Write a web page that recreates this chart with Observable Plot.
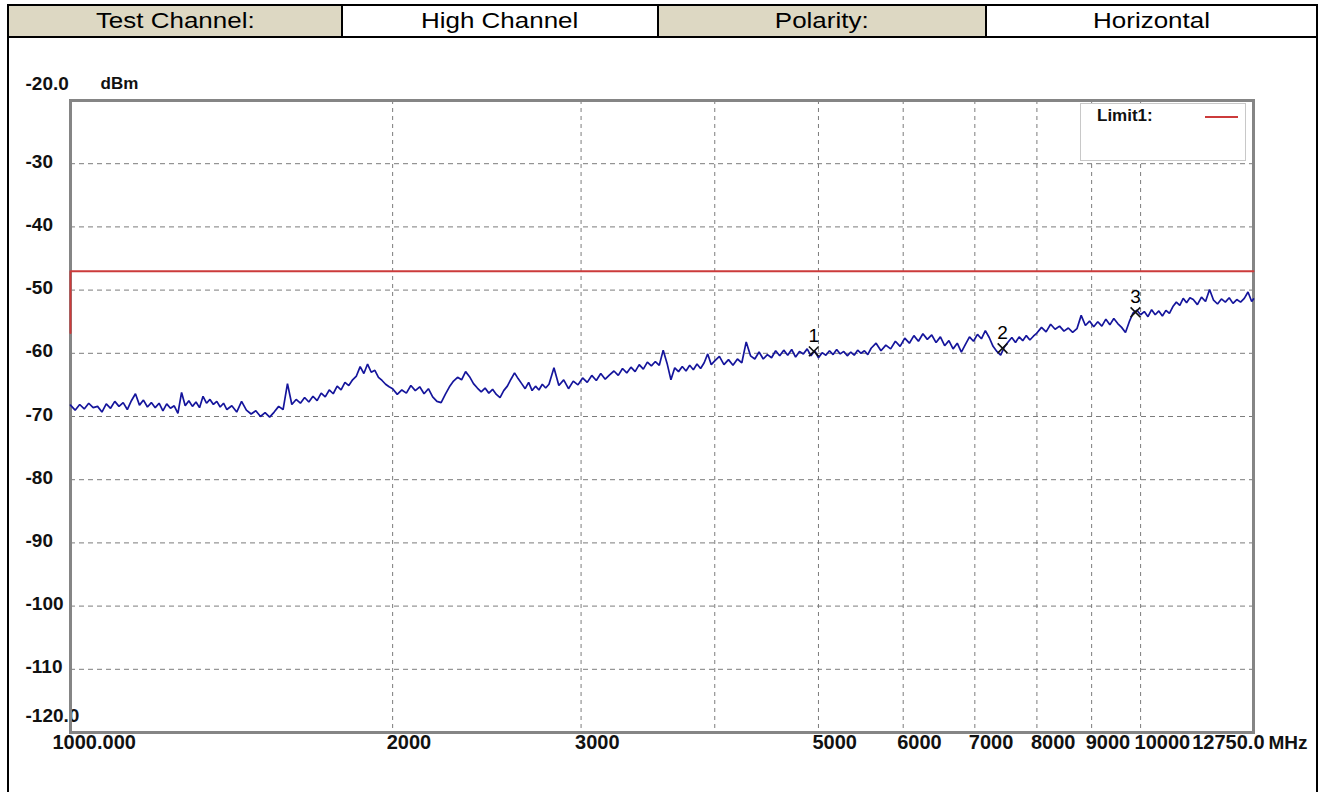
<!DOCTYPE html>
<html><head><meta charset="utf-8">
<script src="https://cdn.jsdelivr.net/npm/d3@7"></script>
<script src="https://cdn.jsdelivr.net/npm/@observablehq/plot@0.6"></script>
<style>
html,body{margin:0;padding:0;background:#fff;width:1323px;height:792px;overflow:hidden;font-family:"Liberation Sans",Arial,sans-serif;}
.ln{position:absolute;background:#000;z-index:5;}
.cell{position:absolute;top:6px;height:30px;display:flex;align-items:center;justify-content:center;font-size:22px;color:#000;}
.cell span{display:inline-block;transform:scaleX(1.18);}
.tan{background:#ddd8c3;}
#chart{position:absolute;left:0;top:40px;}
#legend{position:absolute;left:1080px;top:103px;width:166px;height:58px;box-sizing:border-box;border:1px solid #c8c8c8;background:#fff;z-index:3;}
#legend .lab{position:absolute;left:16px;top:2px;font-weight:bold;font-size:17px;color:#111;}
#legend .sw{position:absolute;left:124px;top:12px;width:33px;height:0;border-top:2px solid #cc3b3b;}
</style></head><body>
<div class="cell tan" style="left:9px;width:332px"><span>Test Channel:</span></div>
<div class="cell" style="left:343px;width:314px"><span>High Channel</span></div>
<div class="cell tan" style="left:659px;width:326px"><span>Polarity:</span></div>
<div class="cell" style="left:987px;width:329px"><span>Horizontal</span></div>
<div class="ln" style="left:7px;top:4px;width:1311px;height:2px"></div>
<div class="ln" style="left:7px;top:36px;width:1311px;height:2px"></div>
<div class="ln" style="left:7px;top:4px;width:2px;height:790px"></div>
<div class="ln" style="left:341px;top:4px;width:2px;height:34px"></div>
<div class="ln" style="left:657px;top:4px;width:2px;height:34px"></div>
<div class="ln" style="left:985px;top:4px;width:2px;height:34px"></div>
<div class="ln" style="left:1316px;top:4px;width:2px;height:790px"></div>
<div id="chart"></div>
<div id="legend"><div class="lab">Limit1:</div><div class="sw"></div></div>
<script>
// ---- Trace data (MHz, dBm) ----
const mhzA = [1000,1010,1020,1030,1040,1050,1060,1070,1080,1090,1100,1110,1120,1130,1140,1150,1160,1170,1180,1190,1200,1210,1220,1230,1240,1250,1260,1270,1280,1290,1300,1310,1320,1330,1340,1350,1360,1370,1380,1390];
const dbmA = [-68.2,-69.0,-68.1,-68.8,-67.9,-68.6,-68.4,-69.3,-68.0,-68.7,-67.6,-68.4,-67.8,-68.9,-67.5,-66.4,-68.2,-67.4,-68.5,-67.8,-68.6,-67.9,-69.1,-68.0,-68.7,-68.3,-69.5,-66.2,-68.3,-67.5,-68.4,-67.7,-68.6,-66.8,-67.9,-67.3,-68.1,-67.6,-68.5,-67.9];
const mhzB = [1400,1415,1430,1445,1460,1475,1490,1505,1520,1535,1550,1565,1580,1595,1610,1625,1640,1655,1670,1685,1700,1715,1730,1745,1760,1775,1790,1805,1820,1835,1850,1865,1880,1895,1910,1925,1940,1955,1970,1985];
const dbmB = [-68.9,-68.3,-69.3,-67.6,-69.0,-69.6,-69.1,-70.0,-69.4,-70.1,-69.3,-68.4,-68.9,-64.8,-68.1,-67.3,-67.9,-67.0,-67.7,-66.8,-67.5,-66.3,-66.9,-65.8,-66.4,-65.2,-65.8,-64.6,-65.1,-64.2,-63.6,-62.1,-63.2,-61.7,-63.0,-62.7,-63.8,-64.3,-64.9,-65.3];
const mhzC = [2000,2020,2040,2060,2080,2100,2120,2140,2160,2180,2200,2220,2240,2260,2280,2300,2320,2340,2360,2380,2400,2420,2440,2460,2480,2500,2520,2540,2560,2580,2600,2620,2640,2660,2680,2700,2720,2740,2760,2780];
const dbmC = [-65.6,-66.5,-65.8,-66.3,-65.1,-65.9,-65.3,-66.4,-65.6,-66.9,-67.6,-67.8,-66.5,-65.3,-64.4,-63.8,-64.2,-62.9,-63.7,-64.8,-65.5,-66.1,-65.5,-66.3,-65.7,-66.5,-67.0,-65.9,-65.2,-64.1,-63.1,-64.0,-64.8,-65.6,-64.6,-65.9,-65.2,-65.8,-64.9,-65.5];
const mhzD = [2800,2830,2860,2890,2920,2950,2980,3010,3040,3070,3100,3130,3160,3190,3220,3250,3280,3310,3340,3370,3400,3430,3460,3490,3520,3550,3580,3610,3640,3670,3700,3730,3760,3790,3820,3850,3880,3910,3940,3970];
const dbmD = [-64.9,-62.3,-65.1,-64.2,-65.6,-64.4,-65.0,-63.9,-64.6,-63.5,-64.3,-63.2,-64.1,-63.4,-62.8,-63.5,-62.4,-63.1,-62.2,-62.9,-61.8,-62.5,-61.4,-62.0,-61.3,-61.9,-59.5,-61.6,-64.2,-62.3,-62.9,-62.1,-62.8,-61.9,-62.6,-61.7,-62.4,-61.5,-60.1,-61.8];
const mhzE = [4000,4040,4080,4120,4160,4200,4240,4280,4320,4360,4400,4440,4480,4520,4560,4600,4640,4680,4720,4760,4800,4840,4880,4920,4960,5000,5040,5080,5120,5160,5200,5240,5280,5320,5360,5400,5440,5480,5520,5560];
const dbmE = [-61.2,-60.5,-61.8,-61.0,-61.9,-60.9,-61.5,-58.2,-60.4,-60.9,-59.8,-60.9,-60.2,-60.7,-59.6,-60.4,-59.5,-60.3,-59.4,-60.6,-59.7,-60.1,-59.3,-60.4,-59.6,-60.7,-59.9,-60.3,-59.6,-60.2,-59.4,-60.1,-59.7,-60.4,-59.8,-60.3,-59.5,-60.0,-59.6,-60.2];
const mhzF = [5600,5660,5720,5780,5840,5900,5960,6020,6080,6140,6200,6260,6320,6380,6440,6500,6560,6620,6680,6740,6800,6860,6920,6980,7040,7100,7160,7220,7280,7340,7400,7460,7520,7580,7640,7700,7760,7820,7880,7940];
const dbmF = [-59.2,-58.4,-59.6,-58.7,-59.3,-58.1,-58.9,-57.6,-58.4,-57.2,-58.1,-56.9,-57.8,-57.1,-58.3,-57.4,-58.8,-58.0,-59.3,-58.4,-59.8,-58.6,-57.4,-58.1,-57.0,-57.7,-56.4,-57.5,-58.9,-59.7,-60.3,-59.0,-58.2,-57.5,-58.3,-57.4,-58.0,-57.2,-57.9,-57.3];
const mhzG = [8000,8080,8160,8240,8320,8400,8480,8560,8640,8720,8800,8880,8960,9040,9120,9200,9280,9360,9440,9520,9600,9680,9760,9840,9920,10000,10080,10160,10240,10320,10400,10480,10560,10640,10720,10800,10880,10960,11040,11120];
const dbmG = [-56.8,-55.9,-56.6,-55.4,-56.2,-55.7,-56.5,-56.0,-56.7,-56.1,-54.0,-55.6,-54.9,-55.8,-55.0,-55.7,-54.6,-55.5,-54.5,-55.3,-55.9,-56.7,-55.0,-53.6,-53.2,-53.9,-53.4,-54.2,-53.1,-53.9,-53.3,-54.1,-53.2,-53.7,-52.6,-51.9,-52.4,-51.3,-52.0,-51.2];
const mhzH = [11200,11300,11400,11500,11600,11700,11800,11900,12000,12100,12200,12300,12400,12500,12600,12700,12750];
const dbmH = [-51.5,-52.3,-51.1,-51.8,-49.9,-51.6,-52.2,-51.4,-51.9,-51.2,-52.1,-51.5,-51.9,-51.3,-50.3,-51.8,-51.4];

// ---- Limit line ----
const limitMHz = [1000, 1000, 12750];
const limitDbm = [-56.8, -47, -47];

// ---- Markers ----
const markerNames = ["1", "2", "3"];
const markerMHz = [4950, 7430, 9890];
const markerDbm = [-59.7, -59.2, -53.5];

// ---- Axes ----
const xGridMHz = [2000, 3000, 4000, 5000, 6000, 7000, 8000, 9000, 10000];
const xTickMHz = [1000, 2000, 3000, 5000, 6000, 7000, 8000, 9000, 10000, 12750];
const xTickLabels = ["1000.000", "2000", "3000", "5000", "6000", "7000", "8000", "9000", "10000", "12750.0"];
const xUnit = "MHz";
const yGridDbm = [-30, -40, -50, -60, -70, -80, -90, -100, -110];
const yTickDbm = [-20, -30, -40, -50, -60, -70, -80, -90, -100, -110, -120];
const yTickLabels = ["-20.0", "-30", "-40", "-50", "-60", "-70", "-80", "-90", "-100", "-110", "-120.0"];
const yUnit = "dBm";

const zipAll = [[mhzA,dbmA],[mhzB,dbmB],[mhzC,dbmC],[mhzD,dbmD],[mhzE,dbmE],[mhzF,dbmF],[mhzG,dbmG],[mhzH,dbmH]];
const trace = zipAll.flatMap(([m, d]) => m.map((f, i) => ({f, v: d[i]})));
const limit = limitMHz.map((f, i) => ({f, v: limitDbm[i]}));
const markers = markerNames.map((n, i) => ({n, f: markerMHz[i], v: markerDbm[i]}));
const xt = xTickMHz.map((f, i) => ({f, t: xTickLabels[i]}));
const yt = yTickDbm.map((v, i) => ({v, t: yTickLabels[i]}));
const yEnds = yt.filter((d, i) => i === 0 || i === yt.length - 1);
const yMid = yt.filter((d, i) => i > 0 && i < yt.length - 1);
const xFirst = xt.slice(0, 1), xMid = xt.slice(1, -1), xLast = xt.slice(-1);

const font = "'Liberation Sans', Arial, sans-serif";
const chart = Plot.plot({
  width: 1323, height: 752,
  marginTop: 60, marginBottom: 60, marginLeft: 70, marginRight: 70,
  x: {type: "log", domain: [1000, 12750], axis: null},
  y: {domain: [-120, -20], axis: null},
  style: {fontFamily: font, background: "transparent", overflow: "visible"},
  marks: [
    Plot.ruleX(xGridMHz, {stroke: "#7c7c7c", strokeWidth: 1, strokeDasharray: "4,4"}),
    Plot.ruleY(yGridDbm, {stroke: "#7c7c7c", strokeWidth: 1, strokeDasharray: "5,4"}),
    Plot.text(yMid, {y: "v", text: "t", frameAnchor: "left", dx: -45, dy: -2, textAnchor: "start", fontWeight: "bold", fontSize: 19, fill: "#111"}),
    Plot.text(yEnds, {y: "v", text: "t", frameAnchor: "left", dx: -45, dy: -17, textAnchor: "start", fontWeight: "bold", fontSize: 19, fill: "#111"}),
    Plot.text([yUnit], {y: yTickDbm[0], text: d => d, frameAnchor: "left", dx: 30, dy: -17, textAnchor: "start", fontWeight: "bold", fontSize: 17, fill: "#111"}),
    Plot.frame({stroke: "#858585", strokeWidth: 3}),
    Plot.line(limit, {x: "f", y: "v", stroke: "#cc3b3b", strokeWidth: 2}),
    Plot.line(trace, {x: "f", y: "v", stroke: "#15159c", strokeWidth: 1.7, strokeLinejoin: "miter"}),
    Plot.dot(markers, {x: "f", y: "v", symbol: "times", r: 4.5, stroke: "#111", strokeWidth: 1.6}),
    Plot.text(markers, {x: "f", y: "v", text: "n", dy: -15, fontSize: 19, fill: "#000"}),
    Plot.text(xFirst, {x: "f", text: "t", frameAnchor: "bottom", dy: 16, dx: -18, textAnchor: "start", fontWeight: "bold", fontSize: 20, fill: "#111"}),
    Plot.text(xMid, {x: "f", text: "t", frameAnchor: "bottom", dy: 16, dx: -6, textAnchor: "start", fontWeight: "bold", fontSize: 20, fill: "#111"}),
    Plot.text(xLast, {x: "f", text: "t", frameAnchor: "bottom", dy: 16, dx: 11, textAnchor: "end", fontWeight: "bold", fontSize: 20, fill: "#111"}),
    Plot.text([xUnit], {x: xTickMHz[xTickMHz.length - 1], text: d => d, frameAnchor: "bottom", dy: 16, dx: 15, textAnchor: "start", fontWeight: "bold", fontSize: 19, fill: "#111"})
  ]
});
document.getElementById("chart").appendChild(chart);
</script>
</body></html>
